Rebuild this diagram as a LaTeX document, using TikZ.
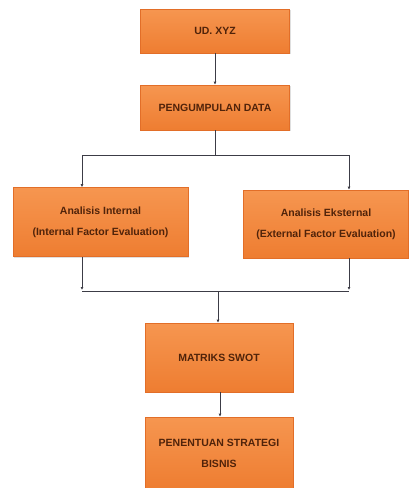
\documentclass[tikz,border=0pt]{standalone}
\usepackage{fontspec}
\setmainfont{Liberation Sans}
\usetikzlibrary{arrows.meta,shadows}

\definecolor{kotak}{RGB}{238,125,49}
\definecolor{kotakatas}{RGB}{246,150,80}
\definecolor{tepi}{RGB}{226,110,40}
\definecolor{teks}{RGB}{80,35,10}
\definecolor{garis}{RGB}{60,60,70}

\tikzset{
  kotakbox/.style={draw=tepi, line width=0.6pt, top color=kotakatas, bottom color=kotak,
    drop shadow={opacity=0.25, shadow xshift=1pt, shadow yshift=-1pt},
    text=teks, font=\fontsize{10.5}{21}\selectfont\bfseries, align=center,
    inner sep=0pt},
  panah/.style={draw=garis, line width=0.7pt, -{Latex[length=3pt,width=3pt]}},
  garisbiasa/.style={draw=garis, line width=0.7pt}
}

\begin{document}
\begin{tikzpicture}[x=1pt,y=1pt]
\useasboundingbox (0,0) rectangle (409,-488);

% kotak-kotak
\node[kotakbox, minimum width=149pt, minimum height=44pt] (xyz) at (215,-31) {UD. XYZ};
\node[kotakbox, minimum width=149pt, minimum height=45pt] (data) at (215,-107.5) {PENGUMPULAN DATA};
\node[kotakbox, minimum width=175pt, minimum height=69pt] (int) at (100.5,-222) {Analisis Internal\\(Internal Factor Evaluation)};
\node[kotakbox, minimum width=165pt, minimum height=68pt] (eks) at (326,-224) {Analisis Eksternal\\(External Factor Evaluation)};
\node[kotakbox, minimum width=148pt, minimum height=69pt] (swot) at (219,-357.5) {MATRIKS SWOT};
\node[kotakbox, minimum width=148pt, minimum height=72pt] (strat) at (219,-453) {PENENTUAN STRATEGI\\BISNIS};

% titik bantu
\coordinate (cabang) at (215,-155);
\coordinate (kiri1) at (82,-155);
\coordinate (kanan1) at (349,-155);
\coordinate (kiri2) at (82,-290);
\coordinate (kanan2) at (349,-290);
\coordinate (tengah2) at (218,-291);

% garis penghubung
\draw[panah] (xyz.south) -- (data.north);
\draw[garisbiasa] (data.south) -- (cabang);
\draw[garisbiasa] (kiri1) -- (kanan1);
\draw[panah] (kiri1) -- (kiri1 |- int.north);
\draw[panah] (kanan1) -- (kanan1 |- eks.north);
\draw[panah] (kiri2 |- int.south) -- (kiri2);
\draw[panah] (kanan2 |- eks.south) -- (kanan2);
\draw[garisbiasa] (82,-291) -- (349,-291);
\draw[panah] (tengah2) -- (tengah2 |- swot.north);
\draw[panah] (swot.south -| 220,0) -- (strat.north -| 220,0);
\end{tikzpicture}
\end{document}
